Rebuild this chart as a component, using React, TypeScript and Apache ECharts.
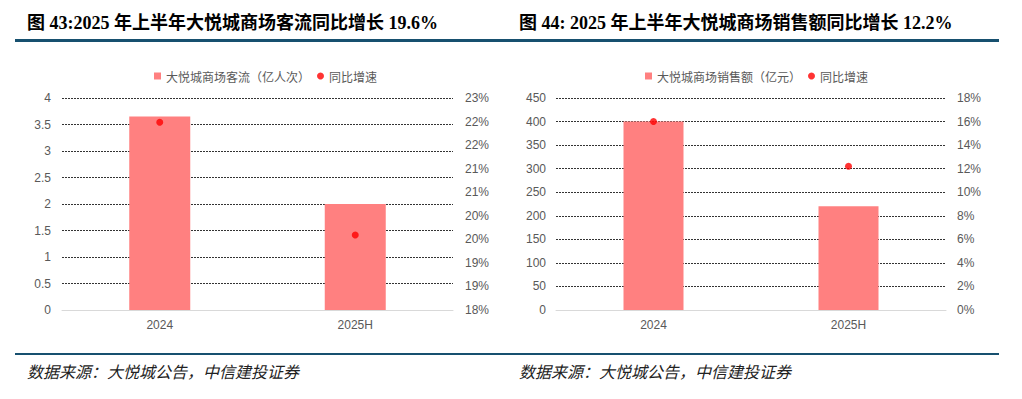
import React, { useEffect, useRef } from "react";
import * as echarts from "echarts";

const categories = ["2024", "2025H"];
const trafficValues = [3.65, 2.0];
const trafficGrowth = [22.43, 19.77];
const salesValues = [400, 220];
const salesGrowth = [16.0, 12.2];

const title1 = "图 43:2025 年上半年大悦城商场客流同比增长 19.6%";
const title2 = "图 44: 2025 年上半年大悦城商场销售额同比增长 12.2%";
const sourceText = "数据来源：大悦城公告，中信建投证券";
const trafficName = "大悦城商场客流（亿人次）";
const salesName = "大悦城商场销售额（亿元）";
const growthName = "同比增速";

const BAR = "#FF8080";
const DOT = "#FF0000";
const LABEL = "#595959";
const RULE = "#17506F";
const FONT = "'Liberation Sans', 'Noto Sans CJK SC', sans-serif";
const CJK = "'Noto Sans CJK SC', sans-serif";

export default function App() {
  const ref = useRef<HTMLDivElement>(null);
  useEffect(() => {
    document.body.style.margin = "0";
    const chart = echarts.init(ref.current!, undefined, { renderer: "svg" });
    const splitLine = { show: true, lineStyle: { color: "#333333", type: [2, 1] as any, width: 1 } };
    const axisLabel = { color: LABEL, fontSize: 12, fontFamily: FONT };
    const xAxisCommon = {
      type: "category" as const,
      data: categories,
      axisTick: { show: false },
      axisLine: { show: true, lineStyle: { color: "#D9D9D9", width: 1 } },
      axisLabel: { ...axisLabel, margin: 9 },
      z: 5,
    };
    const legendCommon = {
      top: 65,
      itemWidth: 7,
      itemHeight: 7,
      itemGap: 7,
      textStyle: { color: LABEL, fontSize: 12, fontFamily: CJK },
    };
    chart.setOption({
      animation: false,
      grid: [
        { left: 62, width: 391, top: 98, height: 212 },
        { left: 556, width: 390, top: 98, height: 212 },
      ],
      legend: [
        {
          ...legendCommon,
          left: 149,
          data: [
            { name: trafficName, icon: "rect" },
            { name: growthName, icon: "circle" },
          ],
        },
        {
          ...legendCommon,
          left: 640,
          data: [
            { name: salesName, icon: "rect" },
            { name: growthName, icon: "circle" },
          ],
        },
      ],
      xAxis: [
        { ...xAxisCommon, gridIndex: 0 },
        { ...xAxisCommon, gridIndex: 1 },
      ],
      yAxis: [
        {
          type: "value",
          gridIndex: 0,
          min: 0,
          max: 4,
          interval: 0.5,
          axisLine: { show: false },
          axisTick: { show: false },
          axisLabel: { ...axisLabel, margin: 11 },
          splitLine,
        },
        {
          type: "value",
          gridIndex: 0,
          position: "right",
          min: 18,
          max: 23,
          interval: 5 / 9,
          axisLine: { show: false },
          axisTick: { show: false },
          axisLabel: { ...axisLabel, margin: 12, formatter: (v: number) => Math.round(v) + "%" },
          splitLine: { show: false },
        },
        {
          type: "value",
          gridIndex: 1,
          min: 0,
          max: 450,
          interval: 50,
          axisLine: { show: false },
          axisTick: { show: false },
          axisLabel: { ...axisLabel, margin: 10 },
          splitLine,
        },
        {
          type: "value",
          gridIndex: 1,
          position: "right",
          min: 0,
          max: 18,
          interval: 2,
          axisLine: { show: false },
          axisTick: { show: false },
          axisLabel: { ...axisLabel, margin: 11, formatter: (v: number) => v + "%" },
          splitLine: { show: false },
        },
      ],
      series: [
        {
          name: trafficName,
          type: "bar",
          xAxisIndex: 0,
          yAxisIndex: 0,
          data: trafficValues,
          barWidth: 61,
          itemStyle: { color: BAR },
        },
        {
          name: growthName,
          type: "scatter",
          xAxisIndex: 0,
          yAxisIndex: 1,
          data: trafficGrowth,
          symbol: "circle",
          symbolSize: 7,
          itemStyle: { color: DOT },
          z: 3,
        },
        {
          name: salesName,
          type: "bar",
          xAxisIndex: 1,
          yAxisIndex: 2,
          data: salesValues,
          barWidth: 60,
          itemStyle: { color: BAR },
        },
        {
          name: growthName,
          type: "scatter",
          xAxisIndex: 1,
          yAxisIndex: 3,
          data: salesGrowth,
          symbol: "circle",
          symbolSize: 7,
          itemStyle: { color: DOT },
          z: 3,
        },
      ],
      graphic: [
        {
          type: "text",
          left: 27,
          top: 14,
          style: {
            text: title1,
            font: "bold 18px 'Liberation Serif', 'Noto Sans CJK SC', serif",
            fill: "#000",
          },
        },
        {
          type: "text",
          left: 519,
          top: 14,
          style: {
            text: title2,
            font: "bold 18px 'Liberation Serif', 'Noto Sans CJK SC', serif",
            fill: "#000",
          },
        },
        {
          type: "rect",
          shape: { x: 15, y: 39, width: 984, height: 3 },
          style: { fill: RULE },
        },
        {
          type: "rect",
          shape: { x: 15, y: 353, width: 984, height: 2 },
          style: { fill: RULE },
        },
        {
          type: "text",
          left: 27,
          top: 363,
          style: {
            text: sourceText,
            font: "italic 16px 'Noto Sans CJK SC', sans-serif",
            fill: "#222",
          },
        },
        {
          type: "text",
          left: 519,
          top: 363,
          style: {
            text: sourceText,
            font: "italic 16px 'Noto Sans CJK SC', sans-serif",
            fill: "#222",
          },
        },
      ],
    });
    return () => chart.dispose();
  }, []);
  return (
    <div
      ref={ref}
      style={{ position: "absolute", left: 0, top: 0, width: 1022, height: 399, background: "#fff" }}
    />
  );
}
